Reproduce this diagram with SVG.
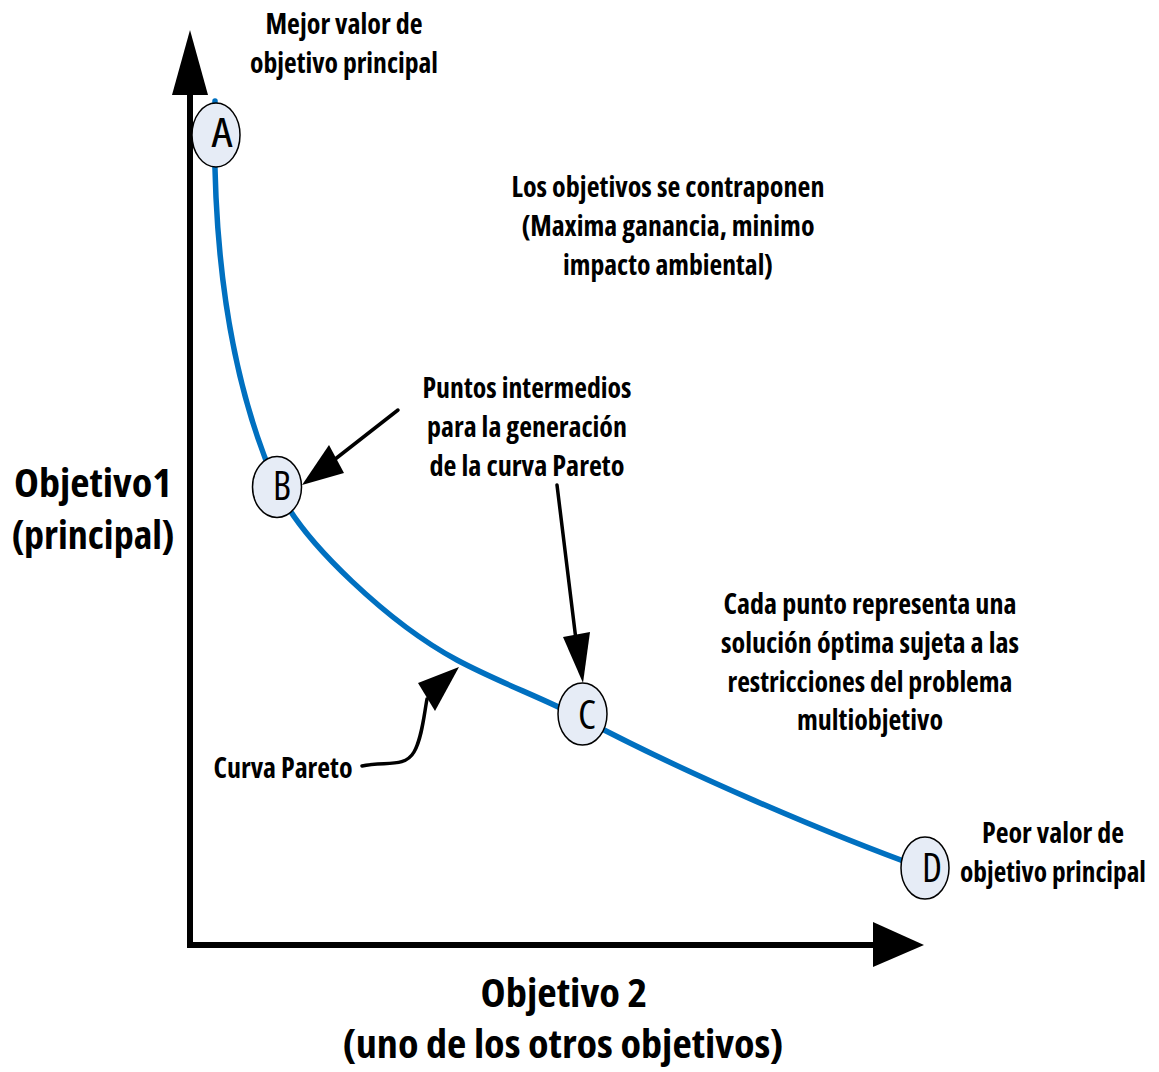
<svg xmlns="http://www.w3.org/2000/svg" width="1159" height="1072" viewBox="0 0 1159 1072">
  <style>
    .lbl { font-family: "Open Sans", "Liberation Sans", sans-serif; font-weight: 700; font-size: 28px; font-stretch: condensed; fill: #000; text-anchor: middle; }
    .axis-lbl { font-family: "Open Sans", "Liberation Sans", sans-serif; font-weight: 700; font-size: 39px; font-stretch: condensed; fill: #000; text-anchor: middle; }
    .pt { fill: #E6ECF6; stroke: #000; stroke-width: 1.5; }
    .pt-txt { font-family: "Open Sans", "Liberation Sans", sans-serif; font-weight: 400; font-size: 40px; font-stretch: condensed; fill: #000; text-anchor: middle; }
    .axis { stroke: #000; stroke-width: 6; fill: none; }
    .pointer { stroke: #000; stroke-width: 3.5; fill: none; stroke-linecap: round; }
    .head { fill: #000; }
    .pareto { stroke: #0070C0; stroke-width: 5.5; fill: none; stroke-linecap: round; }
  </style>

  <!-- axes, Pareto curve and pointer arrows -->
  <g id="connectors">
    <line class="axis" x1="190" y1="948" x2="190" y2="90"/>
    <polygon class="head" points="190,30 172,95 208,95"/>
    <line class="axis" x1="187" y1="945" x2="878" y2="945"/>
    <polygon class="head" points="924,945 873,922 873,967"/>

    <path class="pareto" d="M215,101 C212,230 225,370 277,487 C302,543 392,625 457,660 C500,683 541,697 583,719 C683,772 825,833 925,869"/>

    <line class="pointer" x1="398" y1="410" x2="334" y2="460"/>
    <polygon class="head" points="302,485 329,445 344,473"/>

    <line class="pointer" x1="557" y1="485" x2="576" y2="640"/>
    <polygon class="head" points="583,683 563,637 590,632"/>

    <path class="pointer" d="M362,766 C385,761 405,768 414,752 C422,738 424,715 427,699"/>
    <polygon class="head" points="459,667 418,683 435,711"/>
  </g>

  <g id="point-A">
    <ellipse class="pt" cx="216" cy="135" rx="24" ry="32"/>
    <text class="pt-txt" x="222" y="147" textLength="21" lengthAdjust="spacingAndGlyphs">A</text>
  </g>
  <g id="point-B">
    <ellipse class="pt" cx="277" cy="487" rx="24.5" ry="30.5"/>
    <text class="pt-txt" x="282" y="500" textLength="18" lengthAdjust="spacingAndGlyphs">B</text>
  </g>
  <g id="point-C">
    <ellipse class="pt" cx="582.5" cy="714" rx="24.5" ry="31"/>
    <text class="pt-txt" x="587" y="729" textLength="18" lengthAdjust="spacingAndGlyphs">C</text>
  </g>
  <g id="point-D">
    <ellipse class="pt" cx="925" cy="868" rx="24" ry="31"/>
    <text class="pt-txt" x="932" y="882" textLength="20" lengthAdjust="spacingAndGlyphs">D</text>
  </g>

  <g id="label-best">
    <text class="lbl" x="344" y="34" textLength="157" lengthAdjust="spacingAndGlyphs">Mejor valor de</text>
    <text class="lbl" x="344" y="73" textLength="188" lengthAdjust="spacingAndGlyphs">objetivo principal</text>
  </g>
  <g id="label-conflict">
    <text class="lbl" x="668" y="197" textLength="313" lengthAdjust="spacingAndGlyphs">Los objetivos se contraponen</text>
    <text class="lbl" x="668" y="236" textLength="293" lengthAdjust="spacingAndGlyphs">(Maxima ganancia, minimo</text>
    <text class="lbl" x="668" y="275" textLength="210" lengthAdjust="spacingAndGlyphs">impacto ambiental)</text>
  </g>
  <g id="label-intermediate">
    <text class="lbl" x="527" y="398" textLength="209" lengthAdjust="spacingAndGlyphs">Puntos intermedios</text>
    <text class="lbl" x="527" y="437" textLength="200" lengthAdjust="spacingAndGlyphs">para la generación</text>
    <text class="lbl" x="527" y="476" textLength="195" lengthAdjust="spacingAndGlyphs">de la curva Pareto</text>
  </g>
  <g id="label-each-point">
    <text class="lbl" x="870" y="614" textLength="293" lengthAdjust="spacingAndGlyphs">Cada punto representa una</text>
    <text class="lbl" x="870" y="653" textLength="298" lengthAdjust="spacingAndGlyphs">solución óptima sujeta a las</text>
    <text class="lbl" x="870" y="692" textLength="285" lengthAdjust="spacingAndGlyphs">restricciones del problema</text>
    <text class="lbl" x="870" y="730" textLength="146" lengthAdjust="spacingAndGlyphs">multiobjetivo</text>
  </g>
  <g id="label-curve">
    <text class="lbl" x="283" y="778" textLength="139" lengthAdjust="spacingAndGlyphs">Curva Pareto</text>
  </g>
  <g id="label-worst">
    <text class="lbl" x="1053" y="843" textLength="142" lengthAdjust="spacingAndGlyphs">Peor valor de</text>
    <text class="lbl" x="1053" y="882" textLength="186" lengthAdjust="spacingAndGlyphs">objetivo principal</text>
  </g>
  <g id="label-y-axis">
    <text class="axis-lbl" x="93" y="497" textLength="158" lengthAdjust="spacingAndGlyphs">Objetivo1</text>
    <text class="axis-lbl" x="93" y="549" textLength="163" lengthAdjust="spacingAndGlyphs">(principal)</text>
  </g>
  <g id="label-x-axis">
    <text class="axis-lbl" x="564" y="1007" textLength="167" lengthAdjust="spacingAndGlyphs">Objetivo 2</text>
    <text class="axis-lbl" x="563" y="1058" textLength="441" lengthAdjust="spacingAndGlyphs">(uno de los otros objetivos)</text>
  </g>
</svg>
